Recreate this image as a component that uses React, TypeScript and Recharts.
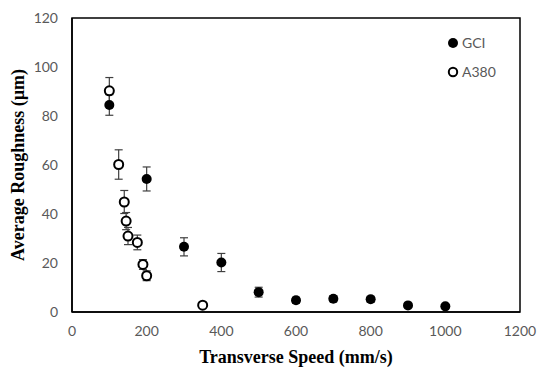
import { ErrorBar, ReferenceArea, Scatter, ScatterChart, XAxis, YAxis } from "recharts"

const gciSpeed = [100, 200, 300, 400, 500, 600, 700, 800, 900, 1000]
const gciRa = [84.5, 54.3, 26.6, 20.2, 8.1, 4.8, 5.4, 5.2, 2.7, 2.3]
const gciErr = [4.2, 4.9, 3.7, 3.7, 2, 1.2, 1.2, 1.2, 0.8, 0.6]

const a380Speed = [100, 125, 140, 145, 150, 175, 190, 200, 350]
const a380Ra = [90.3, 60.2, 44.9, 37.1, 31.0, 28.4, 19.4, 14.8, 2.8]
const a380Err = [5.4, 6, 4.7, 3.5, 3.5, 3, 2, 2, 1]

const xTicks = [0, 200, 400, 600, 800, 1000, 1200]
const yTicks = [0, 20, 40, 60, 80, 100, 120]

const gciData = gciSpeed.map((s, i) => ({ speed: s, ra: gciRa[i], err: gciErr[i] }))
const a380Data = a380Speed.map((s, i) => ({ speed: s, ra: a380Ra[i], err: a380Err[i] }))

const tickStyle = { fill: "#595959", fontSize: 14, fontFamily: "Lato" }
const titleStyle = { fontFamily: "Liberation Serif", fontWeight: 700, fontSize: 18, fill: "#000" }

const FilledDot = (props: any) => <circle cx={props.cx} cy={props.cy} r={5} fill="#000" />
const OpenDot = (props: any) => (
  <circle cx={props.cx} cy={props.cy} r={4.5} fill="#fff" stroke="#000" strokeWidth={2} />
)

function LegendBox() {
  const row = { display: "flex", alignItems: "center", height: 29, color: "#595959", fontFamily: "Lato", fontSize: 14 }
  return (
    <div style={{ position: "absolute", left: 447, top: 28 }}>
      <div style={row}>
        <svg width={12} height={12}><circle cx={6} cy={6} r={5} fill="#000" /></svg>
        <span style={{ marginLeft: 3 }}>GCI</span>
      </div>
      <div style={row}>
        <svg width={12} height={12}><circle cx={6} cy={6} r={4.2} fill="#fff" stroke="#000" strokeWidth={2} /></svg>
        <span style={{ marginLeft: 3 }}>A380</span>
      </div>
    </div>
  )
}

export default function App() {
  return (
    <div style={{ position: "absolute", left: 0, top: 0, width: 550, height: 378, background: "#fff" }}>
      <ScatterChart width={550} height={378} margin={{ top: 18, right: 30, bottom: 0, left: 0 }}>
        <XAxis
          type="number"
          dataKey="speed"
          domain={[0, 1200]}
          ticks={xTicks}
          tickLine={false}
          tickSize={0}
          tickMargin={14}
          height={66}
          axisLine={{ stroke: "#000", strokeWidth: 1.5 }}
          tick={tickStyle}
          label={(p: any) => {
            const vb = p.viewBox
            return (
              <text x={vb.x + vb.width / 2} y={363} textAnchor="middle" style={titleStyle}>
                Transverse Speed (mm/s)
              </text>
            )
          }}
        />
        <YAxis
          type="number"
          dataKey="ra"
          domain={[0, 120]}
          ticks={yTicks}
          tickLine={false}
          tickSize={0}
          tickMargin={14}
          width={72}
          axisLine={{ stroke: "#000", strokeWidth: 1.5 }}
          tick={tickStyle}
          label={(p: any) => {
            const vb = p.viewBox
            const cy = vb.y + vb.height / 2
            return (
              <text x={24} y={cy} transform={`rotate(-90 24 ${cy})`} textAnchor="middle" style={titleStyle}>
                Average Roughness (µm)
              </text>
            )
          }}
        />
        <ReferenceArea x1={0} x2={1200} y1={0} y2={120} fill="none" stroke="#000" strokeWidth={1.5} fillOpacity={0} />
        <Scatter name="GCI" data={gciData} shape={FilledDot} isAnimationActive={false}>
          <ErrorBar dataKey="err" direction="y" width={4} stroke="#404040" strokeWidth={1.2} />
        </Scatter>
        <Scatter name="A380" data={a380Data} shape={OpenDot} isAnimationActive={false}>
          <ErrorBar dataKey="err" direction="y" width={4} stroke="#404040" strokeWidth={1.2} />
        </Scatter>
      </ScatterChart>
      <LegendBox />
    </div>
  )
}
